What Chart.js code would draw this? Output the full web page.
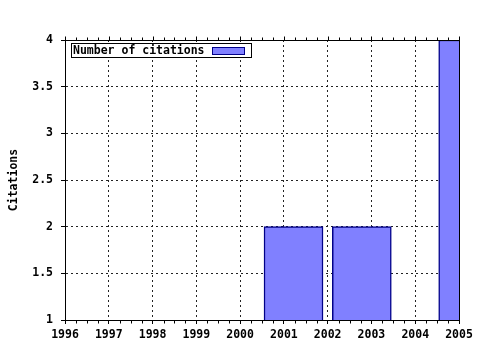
<!DOCTYPE html>
<html>
<head>
<meta charset="utf-8">
<script src="https://cdn.jsdelivr.net/npm/chart.js@4"></script>
<style>
    html, body { margin: 0; padding: 0; background: #fff; }
</style>
</head>
<body>
<canvas id="citChart" width="480" height="350"></canvas>
<script>
// data
const barYears = [2001.22, 2002.78, 2005.21];
const citations = [2, 2, 4];
const seriesLabel = 'Number of citations';
const yTitle = 'Citations';
const xRange = [1996, 2005];
const yRange = [1, 4];

const monoFont = { family: "'DejaVu Sans Mono', monospace", size: 11.5, weight: 'bold' };
const barFill = '#8080ff';
const barEdge = '#000088';

// frame, minor ticks and the boxed legend inside the plot
const framePlugin = {
    id: 'frame',
    afterDraw(chart) {
        const ctx = chart.ctx;
        const a = chart.chartArea;
        const x = chart.scales.x;
        const px = v => Math.round(v) + 0.5;
        ctx.save();
        ctx.strokeStyle = '#000';
        ctx.lineWidth = 1;
        ctx.setLineDash([]);
        ctx.beginPath();
        // full frame
        ctx.rect(px(a.left), px(a.top), Math.round(a.right) - Math.round(a.left), Math.round(a.bottom) - Math.round(a.top));
        for (let v = xRange[0]; v <= xRange[1] + 0.001; v += 0.25) {
            const p = px(x.getPixelForValue(v));
            const major = Math.abs(v - Math.round(v)) < 0.001;
            // top ticks point up
            ctx.moveTo(p, px(a.top));
            ctx.lineTo(p, px(a.top) - (major ? 4 : 3));
            if (!major) {
                ctx.moveTo(p, px(a.bottom));
                ctx.lineTo(p, px(a.bottom) + 3);
            }
        }
        ctx.stroke();

        // legend
        ctx.font = 'bold 11.5px "DejaVu Sans Mono", monospace';
        const tw = ctx.measureText(seriesLabel).width;
        const bx = Math.round(a.left) + 6;
        const by = Math.round(a.top) + 3;
        const swX = bx + 2 + tw + 7;
        const bw = Math.round(swX + 32 + 7 - bx);
        const bh = 14;
        ctx.fillStyle = '#fff';
        ctx.fillRect(bx, by, bw, bh);
        ctx.strokeRect(bx + 0.5, by + 0.5, bw, bh);
        ctx.fillStyle = '#000';
        ctx.textBaseline = 'middle';
        ctx.textAlign = 'left';
        ctx.fillText(seriesLabel, bx + 2, by + bh / 2 + 1);
        ctx.fillStyle = barFill;
        ctx.fillRect(Math.round(swX), by + 4, 32, 7);
        ctx.strokeStyle = barEdge;
        ctx.strokeRect(Math.round(swX) + 0.5, by + 4.5, 32, 7);
        ctx.restore();
    }
};

new Chart(document.getElementById('citChart').getContext('2d'), {
    type: 'bar',
    data: {
        datasets: [{
            label: seriesLabel,
            data: barYears.map((yr, i) => ({ x: yr, y: citations[i] })),
            backgroundColor: barFill,
            borderColor: barEdge,
            borderWidth: 1.5,
            borderSkipped: 'start',
            barThickness: 59,
            clip: 0
        }]
    },
    options: {
        responsive: false,
        animation: false,
        events: [],
        layout: { padding: { top: 40, right: 21, left: 0, bottom: 0 } },
        plugins: {
            legend: { display: false },
            tooltip: { enabled: false }
        },
        scales: {
            x: {
                type: 'linear',
                min: xRange[0],
                max: xRange[1],
                offset: false,
                grid: {
                    offset: false,
                    color: '#222',
                    tickLength: 4,
                    tickColor: '#000',
                    tickBorderDash: [1, 0]
                },
                border: { display: true, color: '#000', width: 1, dash: [2, 3] },
                ticks: {
                    stepSize: 1,
                    autoSkip: false,
                    maxRotation: 0,
                    padding: 4,
                    color: '#000',
                    font: monoFont,
                    callback: v => String(v)
                },
                afterFit: s => { s.height = 30; }
            },
            y: {
                min: yRange[0],
                max: yRange[1],
                grid: {
                    color: '#222',
                    tickLength: 4,
                    tickColor: '#000',
                    tickBorderDash: [1, 0]
                },
                border: { display: true, color: '#000', width: 1, dash: [2, 3] },
                ticks: {
                    stepSize: 0.5,
                    padding: 8,
                    color: '#000',
                    font: monoFont,
                    callback: v => String(v)
                },
                title: {
                    display: true,
                    text: yTitle,
                    color: '#000',
                    font: monoFont,
                    padding: { top: 7, bottom: 0 }
                },
                afterFit: s => { s.width = 65; }
            }
        }
    },
    plugins: [framePlugin]
});
</script>
</body>
</html>
